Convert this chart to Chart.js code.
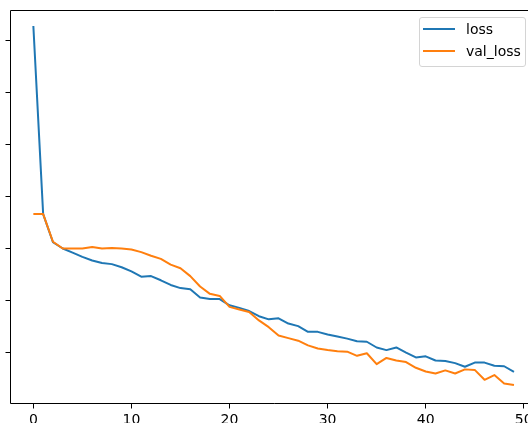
<!DOCTYPE html>
<html>
<head>
<meta charset="utf-8">
<title>loss / val_loss</title>
<script src="https://cdn.jsdelivr.net/npm/chart.js@4.4.1/dist/chart.umd.min.js"></script>
<style>
  html, body { margin: 0; padding: 0; background: #fff; overflow: hidden; width: 528px; height: 423px; }
  .wrap { position: relative; width: 528px; height: 423px; overflow: hidden; }
  .wrap canvas { position: absolute; left: 0; top: 0; }
  .legend {
    position: absolute; left: 419px; top: 17px; width: 107px; height: 50px;
    box-sizing: border-box; border: 1px solid #d4d4d4; border-radius: 3px;
    background: rgba(255, 255, 255, 0.8);
    font-family: "DejaVu Sans", sans-serif; font-size: 14px; color: #000;
  }
  .legend .item { position: absolute; left: 0; width: 100%; height: 20px; line-height: 20px; }
  .legend .swatch { position: absolute; left: 3px; top: 9px; width: 32px; height: 2px; }
  .legend .label { position: absolute; left: 46px; top: 0; white-space: nowrap; }
</style>
</head>
<body>

<div class="wrap">
  <canvas id="chart" width="540" height="423"></canvas>
  <div class="legend" id="legend"></div>
</div>

<script>

// epochs on the x axis
const epochs = [0, 1, 2, 3, 4, 5, 6, 7, 8, 9, 10, 11, 12, 13, 14, 15, 16, 17, 18, 19,
    20, 21, 22, 23, 24, 25, 26, 27, 28, 29, 30, 31, 32, 33, 34, 35, 36, 37, 38, 39,
    40, 41, 42, 43, 44, 45, 46, 47, 48, 49]

const loss = [0.827, 0.466, 0.412, 0.400, 0.392, 0.384, 0.377, 0.372, 0.370, 0.364,
    0.356, 0.346, 0.347, 0.339, 0.330, 0.324, 0.322, 0.306, 0.303, 0.303,
    0.291, 0.286, 0.280, 0.270, 0.264, 0.266, 0.256, 0.251, 0.240, 0.240,
    0.235, 0.231, 0.227, 0.222, 0.221, 0.210, 0.205, 0.210, 0.200, 0.191,
    0.193, 0.185, 0.184, 0.180, 0.173, 0.181, 0.181, 0.175, 0.174, 0.163]

const valLoss = [0.466, 0.466, 0.413, 0.400, 0.400, 0.400, 0.403, 0.400, 0.401, 0.400,
    0.398, 0.393, 0.386, 0.380, 0.369, 0.362, 0.347, 0.327, 0.313, 0.309,
    0.288, 0.283, 0.278, 0.262, 0.249, 0.233, 0.228, 0.223, 0.214, 0.208,
    0.205, 0.203, 0.202, 0.194, 0.199, 0.178, 0.190, 0.185, 0.182, 0.171,
    0.164, 0.160, 0.166, 0.160, 0.168, 0.167, 0.148, 0.157, 0.141, 0.138]

const xTicks = [0, 10, 20, 30, 40, 50]
// y tick labels are cropped off in the original, only the marks show
const yTicks = [0.2, 0.3, 0.4, 0.5, 0.6, 0.7, 0.8]

const seriesNames = ["loss", "val_loss"]
const colors = ["#1f77b4", "#ff7f0e"]

const FONT = "'DejaVu Sans', sans-serif"

// matplotlib style spines: left, top, bottom (right one is outside the crop)
const frame = {
    id: "frame",
    afterDatasetsDraw(chart) {
        const {ctx, chartArea: a} = chart
        ctx.save()
        ctx.strokeStyle = "#000"
        ctx.lineWidth = 1
        ctx.beginPath()
        ctx.moveTo(a.right, a.top)
        ctx.lineTo(a.left, a.top)
        ctx.lineTo(a.left, a.bottom)
        ctx.lineTo(a.right, a.bottom)
        ctx.stroke()
        ctx.restore()
    }
}

const toPoints = values => values.map((v, i) => ({x: epochs[i], y: v}))

const chart = new Chart(document.getElementById("chart"), {
    type: "line",
    data: {
        datasets: [loss, valLoss].map((values, i) => ({
            label: seriesNames[i],
            data: toPoints(values),
            borderColor: colors[i],
            backgroundColor: colors[i],
            borderWidth: 2,
            pointRadius: 0,
            tension: 0,
            borderJoinStyle: "round",
            order: 1 - i
        }))
    },
    options: {
        responsive: false,
        animation: false,
        events: [],
        layout: {padding: {left: 5.5, top: 10.5, right: 2, bottom: 0}},
        plugins: {legend: {display: false}, tooltip: {enabled: false}},
        scales: {
            x: {
                type: "linear",
                min: -2.33,
                max: 51.45,
                afterBuildTicks: scale => { scale.ticks = xTicks.map(v => ({value: v})) },
                afterFit: scale => { scale.height = 19.5 },
                border: {display: false},
                grid: {drawOnChartArea: false, drawTicks: true, tickLength: 5, color: "#000", lineWidth: 1},
                ticks: {
                    color: "#000",
                    padding: 3,
                    maxRotation: 0,
                    autoSkip: false,
                    font: {family: FONT, size: 14}
                }
            },
            y: {
                type: "linear",
                min: 0.1025,
                max: 0.8568,
                afterBuildTicks: scale => { scale.ticks = yTicks.map(v => ({value: v})) },
                afterFit: scale => { scale.width = 5 },
                border: {display: false},
                grid: {drawOnChartArea: false, drawTicks: true, tickLength: 5, color: "#000", lineWidth: 1},
                ticks: {display: false}
            }
        }
    },
    plugins: [frame]
})

// legend box like matplotlib's, built from the chart's datasets
const legend = document.getElementById("legend")
chart.data.datasets.forEach((ds, i) => {
    const item = document.createElement("div")
    item.className = "item"
    item.style.top = (1 + i * 22) + "px"
    item.innerHTML = `<span class="swatch" style="background:${ds.borderColor}"></span><span class="label">${ds.label}</span>`
    legend.appendChild(item)
})

</script>
</body>
</html>
